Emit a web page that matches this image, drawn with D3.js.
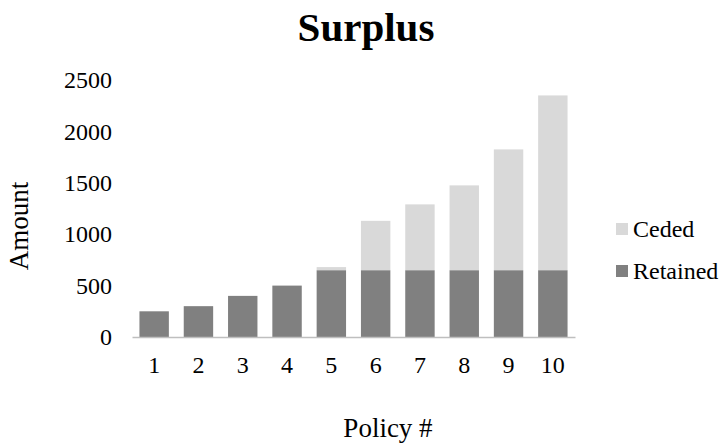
<!DOCTYPE html>
<html>
<head>
<meta charset="utf-8">
<script src="https://cdn.jsdelivr.net/npm/d3@7"></script>
<style>
  body { margin: 0; background: #fff; }
  text { font-family: "Liberation Serif", "Times New Roman", serif; }
</style>
</head>
<body>
<div id="chart"></div>
<script>
const policies = ["1", "2", "3", "4", "5", "6", "7", "8", "9", "10"];
const retained = [250, 300, 400, 500, 650, 650, 650, 650, 650, 650];
const ceded = [0, 0, 0, 0, 30, 480, 640, 825, 1175, 1700];
const yTicks = [0, 500, 1000, 1500, 2000, 2500];
const seriesNames = ["Ceded", "Retained"];
const seriesColors = { Ceded: "#d9d9d9", Retained: "#808080" };

const serif = "Liberation Serif";
const width = 719, height = 444;
const margin = { left: 132, right: 144, top: 80, bottom: 107 };

const svg = d3.select("#chart").append("svg")
    .attr("width", width)
    .attr("height", height)
    .attr("font-family", serif);

const x = d3.scaleBand()
    .domain(policies)
    .range([margin.left, width - margin.right])
    .paddingInner(0.336)
    .paddingOuter(0.168);

const y = d3.scaleLinear()
    .domain([0, 2500])
    .range([height - margin.bottom, margin.top]);

const rows = policies.map(function(p, i) {
    return { policy: p, Retained: retained[i], Ceded: ceded[i] };
});
const stacked = d3.stack().keys(["Retained", "Ceded"])(rows);

svg.append("g")
    .selectAll("g")
    .data(stacked).enter()
    .append("g")
        .attr("fill", function(s) { return seriesColors[s.key]; })
    .selectAll("rect")
    .data(function(s) { return s; }).enter()
    .append("rect")
        .attr("x", function(d) { return x(d.data.policy); })
        .attr("width", x.bandwidth())
        .attr("y", function(d) { return y(d[1]); })
        .attr("height", function(d) { return y(d[0]) - y(d[1]); });

// x axis
const xAxis = svg.append("g")
    .attr("transform", `translate(0,${y(0)})`)
    .call(d3.axisBottom(x).tickSize(0).tickPadding(19));
xAxis.attr("font-family", serif);
xAxis.select(".domain").attr("stroke", "#bfbfbf").attr("stroke-width", 1.5);
xAxis.selectAll("text").attr("font-size", 24).attr("fill", "#000");

// y axis
const yAxis = svg.append("g")
    .attr("transform", `translate(${margin.left},0)`)
    .call(d3.axisLeft(y).tickValues(yTicks).tickFormat(d3.format("d")).tickSize(0).tickPadding(20));
yAxis.attr("font-family", serif);
yAxis.select(".domain").remove();
yAxis.selectAll("text").attr("font-size", 24).attr("fill", "#000");

// title
svg.append("text")
    .attr("x", 366)
    .attr("y", 41)
    .attr("text-anchor", "middle")
    .attr("font-family", serif)
    .attr("font-size", 41)
    .attr("font-weight", "bold")
    .text("Surplus");

svg.append("text")
    .attr("transform", "translate(28,226) rotate(-90)")
    .attr("text-anchor", "middle")
    .attr("font-family", serif)
    .attr("font-size", 27)
    .text("Amount");

svg.append("text")
    .attr("x", 388)
    .attr("y", 437)
    .attr("text-anchor", "middle")
    .attr("font-family", serif)
    .attr("font-size", 27)
    .text("Policy #");

// legend
const legend = svg.append("g")
    .selectAll("g")
    .data(seriesNames).enter()
    .append("g")
        .attr("transform", function(d, i) { return `translate(616,${229 + i * 42})`; });
legend.append("rect")
    .attr("x", 0).attr("y", -6)
    .attr("width", 12).attr("height", 12)
    .attr("fill", function(d) { return seriesColors[d]; });
legend.append("text")
    .attr("x", 17)
    .attr("dy", "0.35em")
    .attr("font-family", serif)
    .attr("font-size", 24)
    .text(function(d) { return d; });
</script>
</body>
</html>
